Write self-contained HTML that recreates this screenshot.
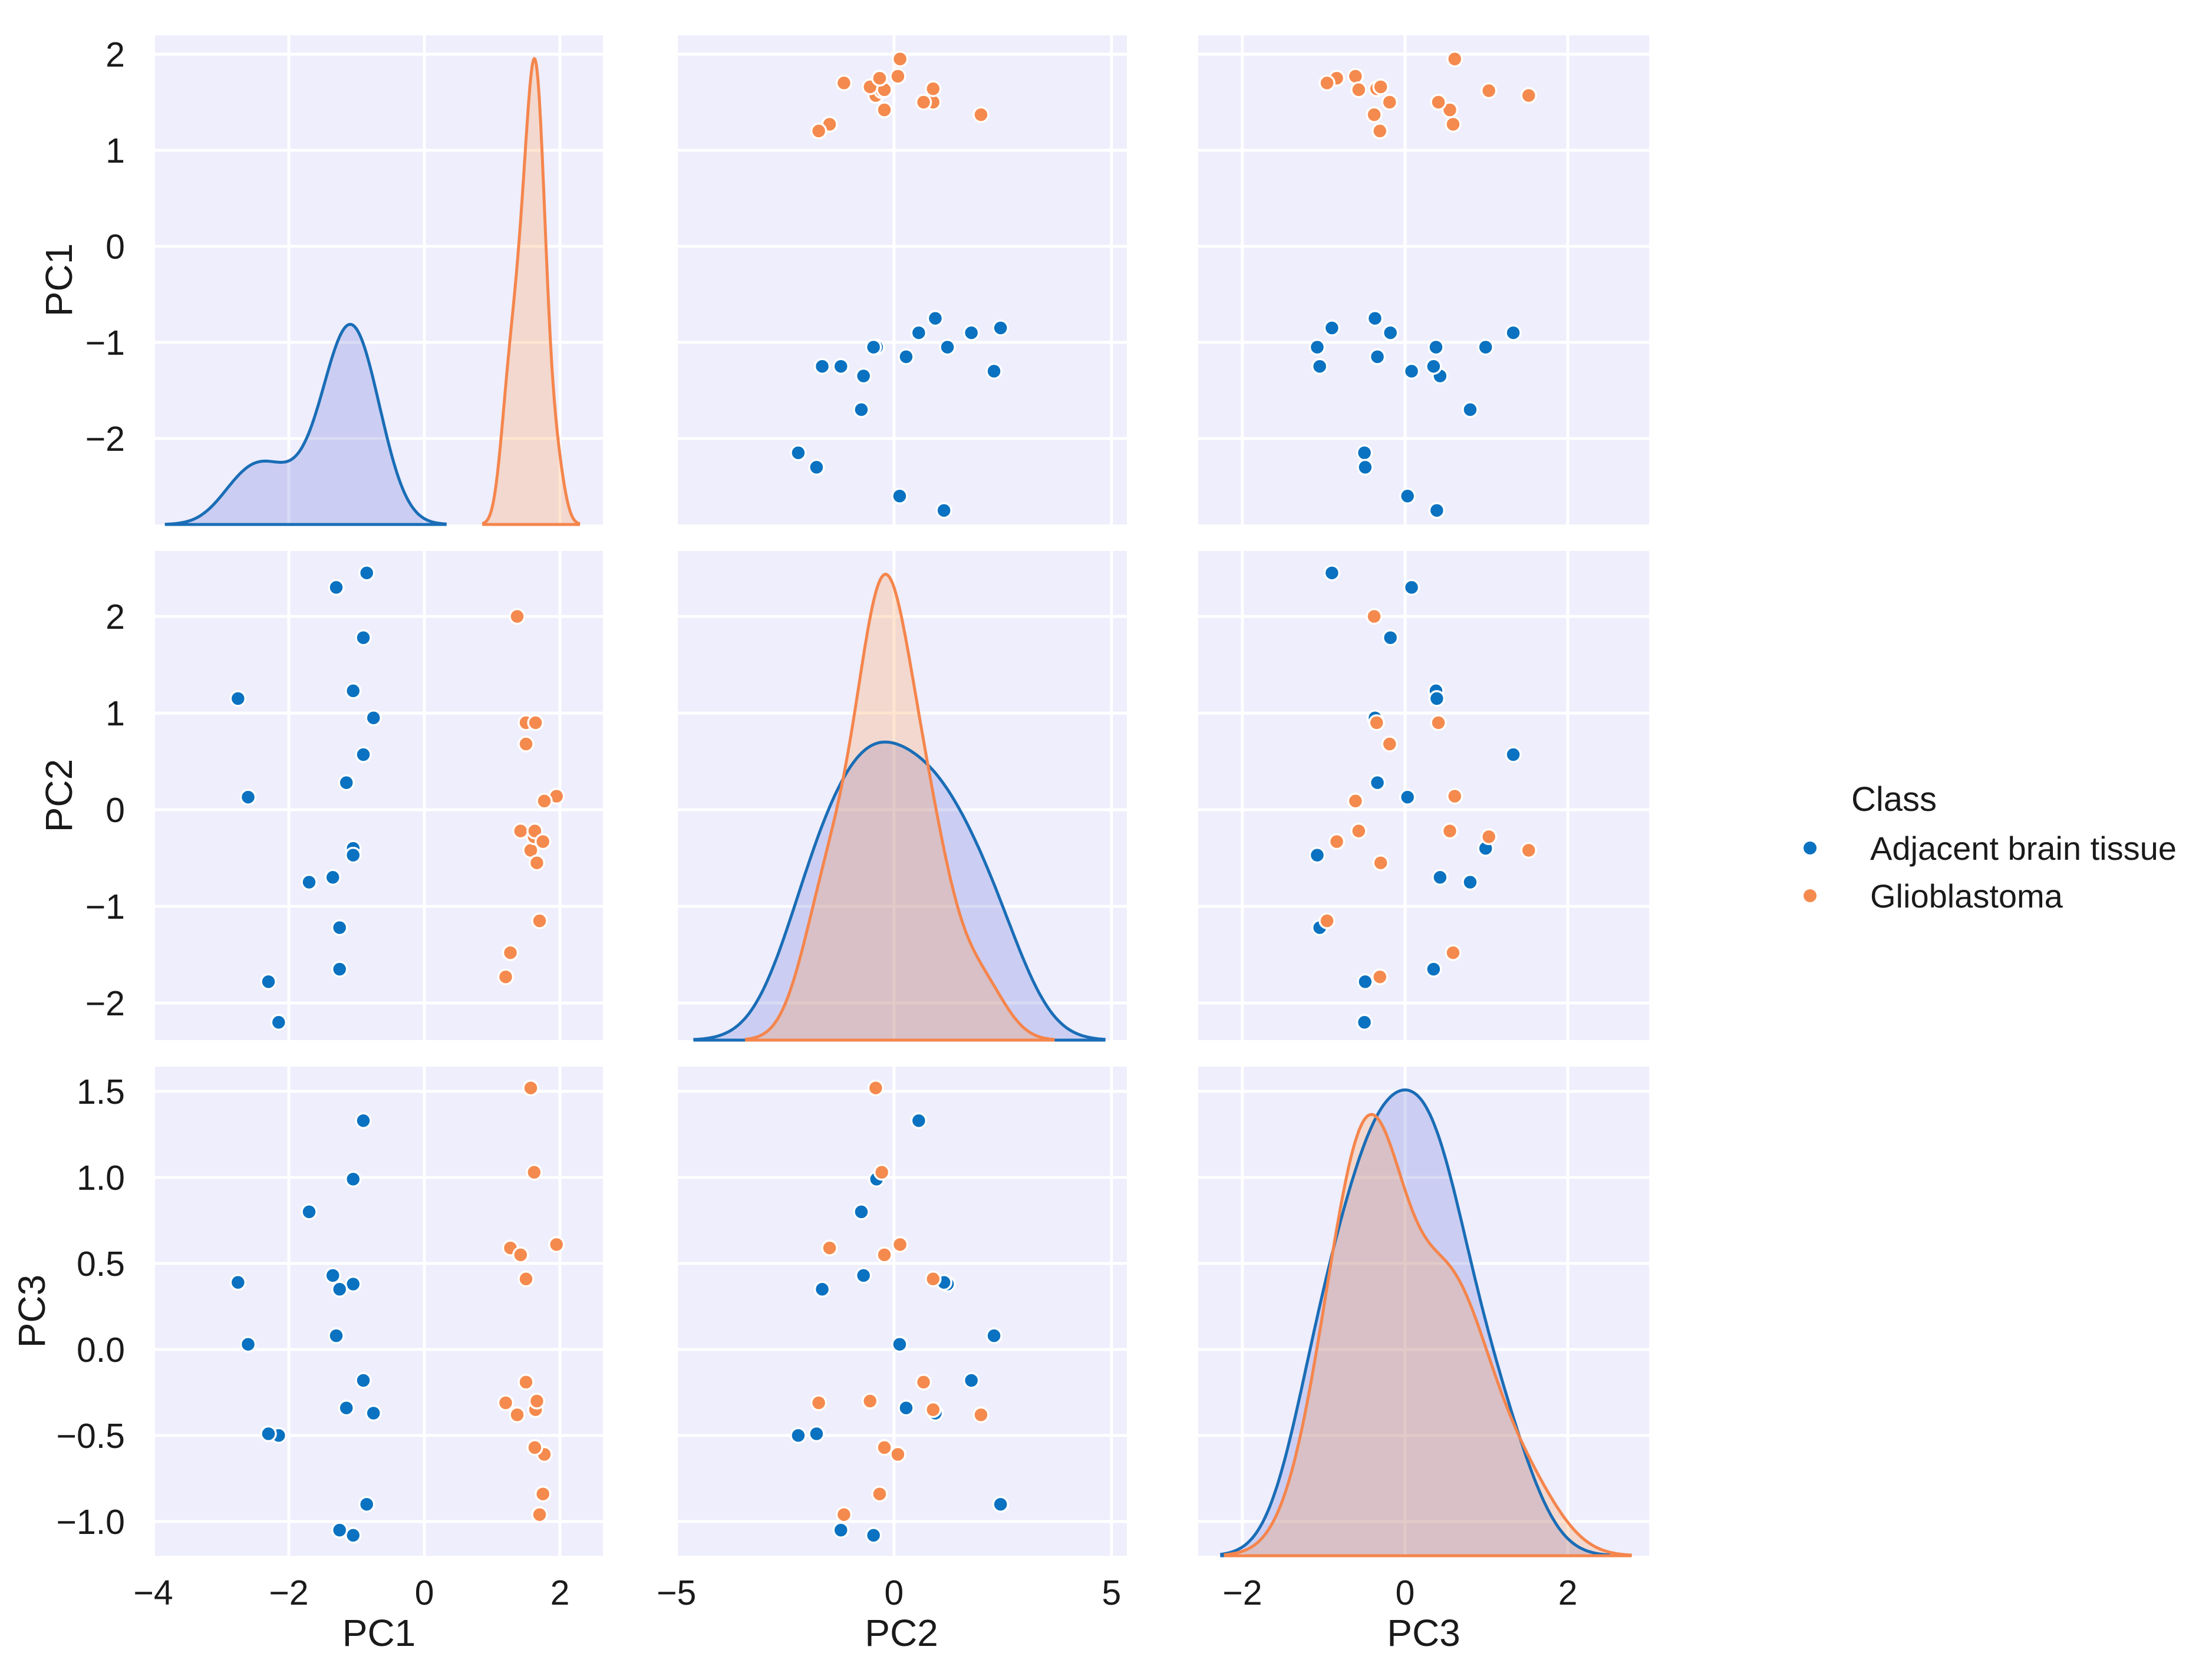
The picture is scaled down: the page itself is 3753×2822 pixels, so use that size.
<!DOCTYPE html>
<html><head><meta charset="utf-8"><style>
html,body{margin:0;padding:0;background:#fff;}
svg{display:block;font-family:"Liberation Sans",Arial,sans-serif;}
</style></head><body>
<svg id="chart" width="3753" height="2822" viewBox="0 0 3753 2822" xmlns="http://www.w3.org/2000/svg"></svg>
<script>
// ---- data ----
const vars = ["PC1","PC2","PC3"];
const classes = ["Adjacent brain tissue","Glioblastoma"];
const bluePC1 = [-2.15,-2.3,-0.85,-1.3,-0.9,-1.05,-2.75,-0.75,-0.9,-1.15,-2.6,-1.05,-1.05,-1.7,-1.35,-1.25,-1.25];
const bluePC2 = [-2.2,-1.78,2.45,2.3,1.78,1.23,1.15,0.95,0.57,0.28,0.13,-0.4,-0.47,-0.75,-0.7,-1.22,-1.65];
const bluePC3 = [-0.5,-0.49,-0.9,0.08,-0.18,0.38,0.39,-0.37,1.33,-0.34,0.03,0.99,-1.08,0.8,0.43,-1.05,0.35];
const orangePC1 = [1.95,1.57,1.62,1.27,1.42,1.5,1.5,1.2,1.64,1.37,1.66,1.77,1.63,1.75,1.7];
const orangePC2 = [0.14,-0.42,-0.28,-1.48,-0.22,0.9,0.68,-1.73,0.9,2.0,-0.55,0.09,-0.22,-0.33,-1.15];
const orangePC3 = [0.61,1.52,1.03,0.59,0.55,0.41,-0.19,-0.31,-0.35,-0.38,-0.3,-0.61,-0.57,-0.84,-0.96];
const ticksPC1 = [-4,-2,0,2];
const ticksPC2 = [-5,0,5];
const ticksPC3 = [-2,0,2];
const yticksPC1 = [-2,-1,0,1,2];
const yticksPC2 = [-2,-1,0,1,2];
const yticksPC3 = [-1.0,-0.5,0.0,0.5,1.0,1.5];

// ---- layout ----
const NS="http://www.w3.org/2000/svg";
const svg=document.getElementById('chart');
const colPix=[[263,1023],[1147,1912],[2033,2798]];
const rowPix=[[60,890],[935,1765],[1810,2640]];
const xDom=[[-3.974,2.635],[-5.01,5.355],[-2.543,3.0]];
const yDom=[[2.196,-2.896],[2.677,-2.384],[1.644,-1.199]];
const xTicks=[ticksPC1,ticksPC2,ticksPC3];
const yTicks=[yticksPC1,yticksPC2,yticksPC3];
const blue=[bluePC1,bluePC2,bluePC3], orange=[orangePC1,orangePC2,orangePC3];
const groups=[blue,orange];
const ptCol=["#0a72c0","#f58a4e"];
const lineCol=["#1a6db6","#f5854c"];
const fillCol=["rgb(100,110,210)","rgb(255,150,68)"];
function sx(c,v){const[a,b]=xDom[c],[p,q]=colPix[c];return p+(v-a)/(b-a)*(q-p);}
function sy(r,v){const[a,b]=yDom[r],[p,q]=rowPix[r];return p+(v-a)/(b-a)*(q-p);}
function el(tag,attrs,parent){const e=document.createElementNS(NS,tag);for(const k in attrs)e.setAttribute(k,attrs[k]);(parent||svg).appendChild(e);return e;}
function fmt(v,dec){let s=dec?v.toFixed(1):String(v);return s.replace('-','\u2212');}

for(let r=0;r<3;r++){for(let c=0;c<3;c++){
  const g=el('g',{});
  
  
  const [x0,x1]=colPix[c],[y0,y1]=rowPix[r];
  const bg=el('rect',{x:x0,y:y0,width:x1-x0,height:y1-y0,fill:'#eeeefc'},g);
  
  
  for(const t of xTicks[c]){const x=sx(c,t);if(x<x0||x>x1)continue;
    const l=el('line',{x1:x,x2:x,y1:y0,y2:y1,stroke:'#fff','stroke-width':5},g);
    
    }
  for(const t of yTicks[r]){const y=sy(r,t);
    const l=el('line',{x1:x0,x2:x1,y1:y,y2:y,stroke:'#fff','stroke-width':5},g);
    
    }
  if(r===c){ // KDE
    const nTot=groups[0][c].length+groups[1][c].length;
    const curves=[];let maxD=0;
    for(let k=0;k<2;k++){const d=groups[k][c];const n=d.length;
      const m=d.reduce((a,b)=>a+b,0)/n;const sd=Math.sqrt(d.reduce((a,b)=>a+(b-m)*(b-m),0)/(n-1));
      const bw=sd*Math.pow(n,-0.2);const lo=Math.min(...d)-3*bw,hi=Math.max(...d)+3*bw;const pts=[];
      for(let i=0;i<200;i++){const x=lo+(hi-lo)*i/199;let s=0;for(const v of d)s+=Math.exp(-0.5*((x-v)/bw)**2);
        const dens=s/(n*bw*Math.sqrt(2*Math.PI))*n/nTot;pts.push([x,dens]);if(dens>maxD)maxD=dens;}
      curves.push(pts);}
    const ymax=maxD*1.05;
    const py=v=>y1-v/ymax*(y1-y0);
    for(let k=0;k<2;k++){const pts=curves[k];
      let dstr='M'+sx(c,pts[0][0]).toFixed(1)+','+y1;for(const p of pts)dstr+='L'+sx(c,p[0]).toFixed(1)+','+py(p[1]).toFixed(1);
      dstr+='L'+sx(c,pts[pts.length-1][0]).toFixed(1)+','+y1+'Z';
      const f=el('path',{d:dstr,fill:fillCol[k],'fill-opacity':0.25,stroke:'none'},g);
      
      }
    for(let k=0;k<2;k++){const pts=curves[k];
      let dstr='';pts.forEach((p,i)=>{dstr+=(i?'L':'M')+sx(c,p[0]).toFixed(1)+','+py(p[1]).toFixed(1);});
      const l=el('path',{d:dstr,fill:'none',stroke:lineCol[k],'stroke-width':5},g);
      
      
      const b=el('line',{x1:sx(c,pts[0][0]),x2:sx(c,pts[pts.length-1][0]),y1:y1,y2:y1,stroke:lineCol[k],'stroke-width':5},g);
      
      }
  } else {
    for(let k=0;k<2;k++){const xs=groups[k][c],ys=groups[k][r];
      for(let i=0;i<xs.length;i++){
        const p=el('circle',{cx:sx(c,xs[i]).toFixed(1),cy:sy(r,ys[i]).toFixed(1),r:12.5,fill:ptCol[k],stroke:'#fff','stroke-width':3.5},g);
        
        }}
  }
}}
// y tick labels & labels
const ylabX=[100,100,54];
for(let r=0;r<3;r++){
  for(const t of yTicks[r]){const tx=el('text',{x:212,y:sy(r,t)+21,'font-size':59,'text-anchor':'end',fill:'#1a1a1a'});
    tx.textContent=fmt(t,r===2);
    
    }
  const cy=(rowPix[r][0]+rowPix[r][1])/2;
  const lb=el('text',{x:ylabX[r],y:cy,'font-size':64,'text-anchor':'middle','dominant-baseline':'central',fill:'#1a1a1a',transform:`rotate(-90 ${ylabX[r]} ${cy})`});
  lb.textContent=vars[r];
  
  
}
for(let c=0;c<3;c++){
  for(const t of xTicks[c]){const tx=el('text',{x:sx(c,t),y:2723,'font-size':59,'text-anchor':'middle',fill:'#1a1a1a'});
    tx.textContent=fmt(t,false);
    
    }
  const lb=el('text',{x:(colPix[c][0]+colPix[c][1])/2,y:2793,'font-size':64,'text-anchor':'middle',fill:'#1a1a1a'});
  lb.textContent=vars[c];
  
  
}
// legend
const lg=el('g',{});


const lt=el('text',{x:3141,y:1376,'font-size':58,fill:'#1a1a1a'},lg);
lt.textContent='Class';


const ly=[1439,1520];
for(let k=0;k<2;k++){
  const m=el('circle',{cx:3071,cy:ly[k],r:11,fill:ptCol[k]},lg);
  
  
  const t=el('text',{x:3173,y:ly[k]+20,'font-size':56,fill:'#1a1a1a'},lg);
  t.textContent=classes[k];
  
  
}
</script>
</body></html>
